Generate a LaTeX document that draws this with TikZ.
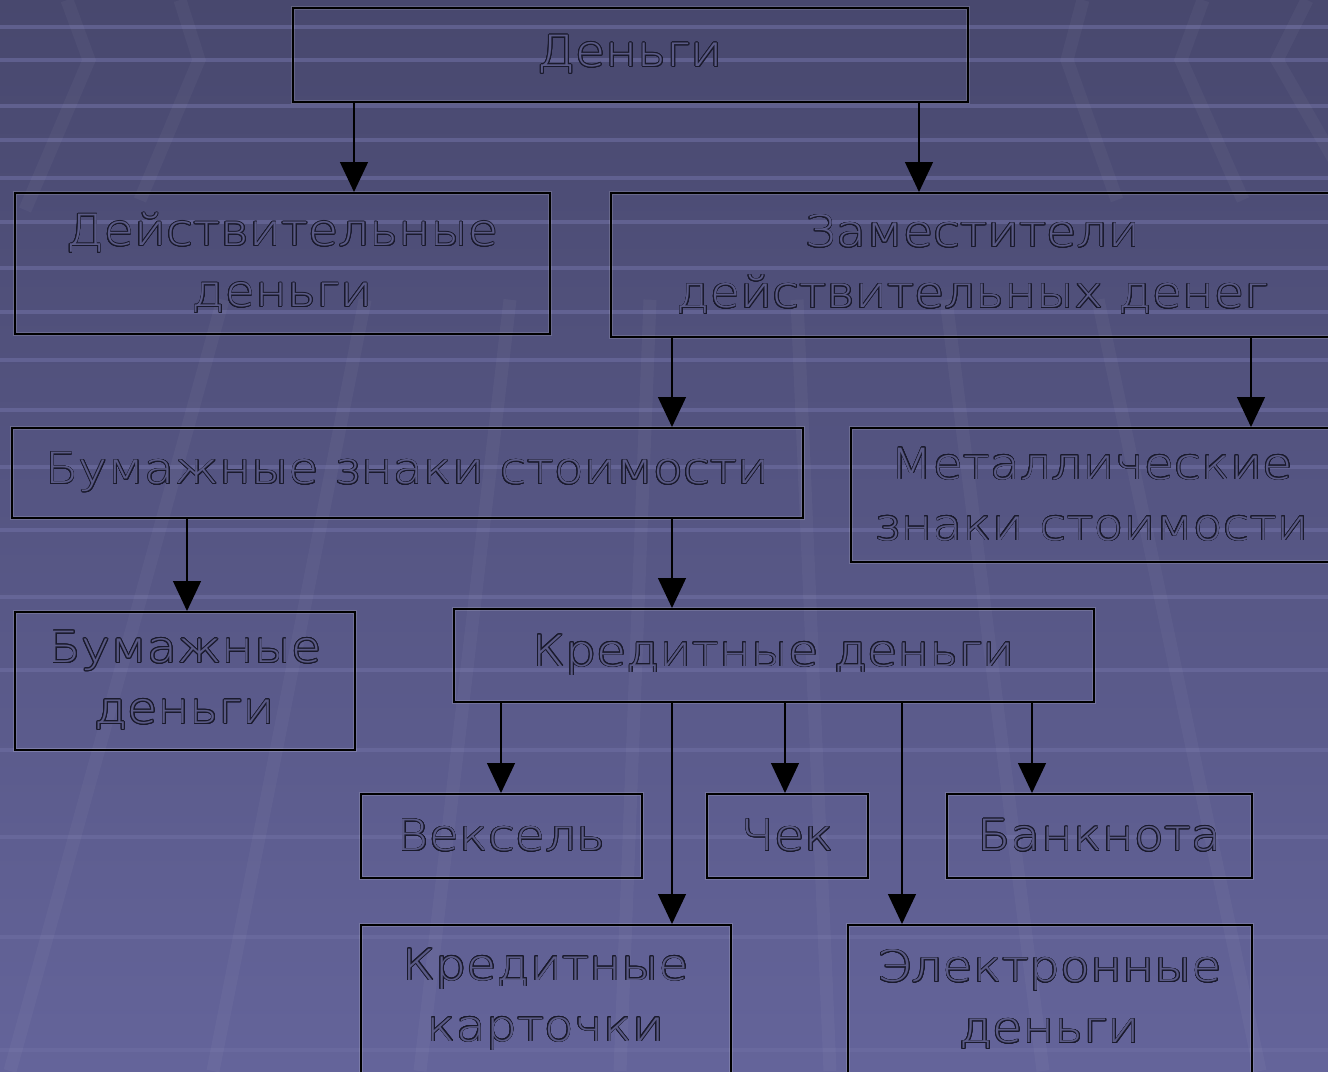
\documentclass[tikz,border=0pt]{standalone}
\usepackage{fontspec}
\IfFontExistsTF{DejaVu Sans ExtraLight}
  {\setmainfont{DejaVu Sans ExtraLight}[FakeStretch=1.14]}
  {\setmainfont{DejaVu Sans}[FakeStretch=1.14]}
\usetikzlibrary{arrows.meta,calc}
\definecolor{bgtop}{HTML}{48486E}
\definecolor{bgbot}{HTML}{64649A}
\definecolor{stripecol}{HTML}{6E6EA2}
\definecolor{txtfill}{HTML}{5A5A86}
\definecolor{txtline}{HTML}{1A1A2C}
\newif\ifhavecontour
\IfFileExists{contour.sty}{\havecontourtrue}{\havecontourfalse}
\ifhavecontour
  \usepackage{contour}
  \contourlength{0.75pt}
  \contournumber{20}
  \newcommand\otxt[1]{\textcolor{txtfill}{\contour{txtline}{#1}}}
\else
  \newcommand\otxt[1]{\textcolor{txtline}{#1}}
\fi
\begin{document}
\begin{tikzpicture}[x=1pt,y=-1pt,
  box/.style={draw=black,line width=1.5pt,
    preaction={draw=white,draw opacity=0.15,line width=4pt},
    inner sep=0pt,align=center,anchor=north west,
    font=\fontsize{43}{61}\selectfont},
  arr/.style={draw=black,line width=1.3pt,-{Triangle[width=28pt,length=30pt]}},
  stripe/.style={draw=stripecol,line width=4pt,draw opacity=0.6},
  ray/.style={draw=white,draw opacity=0.035,line width=13pt}]
\useasboundingbox (0,0) rectangle (1328,1071);
% background
\shade[top color=bgtop,bottom color=bgbot] (0,0) rectangle (1328,1071);
\foreach \yy in {27,60,106,140,178,222,268,312,360,410,467,530,597,670,750,837,937,1050}
  \draw[stripe] (0,\yy) -- (1328,\yy);
% chevrons at the top
\draw[ray] (67,0) -- (89,60) -- (25,210);
\draw[ray] (180,0) -- (199,60) -- (140,200);
\draw[ray] (1083,0) -- (1067,60) -- (1117,200);
\draw[ray] (1203,0) -- (1181,60) -- (1243,200);
\draw[ray] (1307,0) -- (1277,60) -- (1340,170);
% perspective rays
\foreach \xb in {10,213,420,620,830,1043,1260}
  \draw[ray] ($(720,-1500)!0.7!(\xb,1071)$) -- (\xb,1071);
% nodes
\node[box,minimum width=675pt,minimum height=94pt] (top) at (292,7) {\otxt{Деньги}};
\node[box,minimum width=535pt,minimum height=141pt] (dd) at (14,192) {\otxt{Действительные}\\\otxt{деньги}};
\node[box,minimum width=724pt,minimum height=144pt] (zam) at (610,192) {\otxt{Заместители}\\\otxt{действительных денег}};
\node[box,minimum width=791pt,minimum height=90pt] (bzs) at (11,427) {\otxt{Бумажные знаки стоимости}};
\node[box,minimum width=482pt,minimum height=134pt] (mzs) at (850,427) {\otxt{Металлические}\\\otxt{знаки стоимости}};
\node[box,minimum width=340pt,minimum height=138pt] (bd) at (14,611) {\otxt{Бумажные}\\\otxt{деньги}};
\node[box,minimum width=640pt,minimum height=93pt] (kd) at (453,608) {\otxt{Кредитные деньги}};
\node[box,minimum width=281pt,minimum height=84pt] (veks) at (360,793) {\otxt{Вексель}};
\node[box,minimum width=161pt,minimum height=84pt] (chek) at (706,793) {\otxt{Чек}};
\node[box,minimum width=305pt,minimum height=84pt] (bank) at (946,793) {\otxt{Банкнота}};
\node[box,minimum width=370pt,minimum height=150pt] (kk) at (360,924) {\otxt{Кредитные}\\\otxt{карточки}};
\node[box,minimum width=404pt,minimum height=150pt] (el) at (847,924) {\otxt{Электронные}\\\otxt{деньги}};
% columns
\coordinate (c187) at (187,0);
\coordinate (c354) at (354,0);
\coordinate (c501) at (501,0);
\coordinate (c672) at (672,0);
\coordinate (c785) at (785,0);
\coordinate (c902) at (902,0);
\coordinate (c919) at (919,0);
\coordinate (c1032) at (1032,0);
\coordinate (c1251) at (1251,0);
% connectors
\draw[arr] (top.south -| c354) -- (dd.north -| c354);
\draw[arr] (top.south -| c919) -- (zam.north -| c919);
\draw[arr] (zam.south -| c672) -- (bzs.north -| c672);
\draw[arr] (zam.south -| c1251) -- (mzs.north -| c1251);
\draw[arr] (bzs.south -| c187) -- (bd.north -| c187);
\draw[arr] (bzs.south -| c672) -- (kd.north -| c672);
\draw[arr] (kd.south -| c501) -- (veks.north -| c501);
\draw[arr] (kd.south -| c672) -- (kk.north -| c672);
\draw[arr] (kd.south -| c785) -- (chek.north -| c785);
\draw[arr] (kd.south -| c902) -- (el.north -| c902);
\draw[arr] (kd.south -| c1032) -- (bank.north -| c1032);
\end{tikzpicture}
\end{document}
